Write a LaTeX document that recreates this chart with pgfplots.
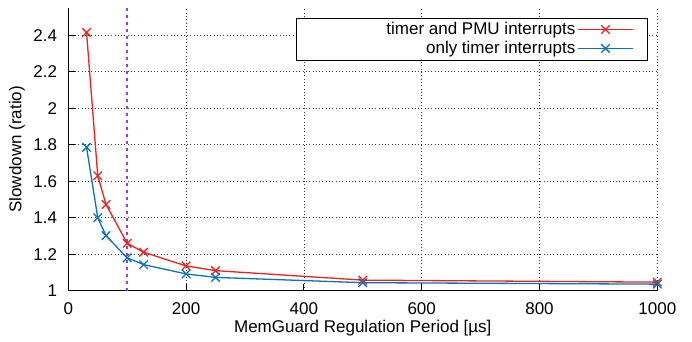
\documentclass[border=0pt]{standalone}
\usepackage{fontspec}
\setmainfont{Liberation Sans}
\usepackage{pgfplots}
\pgfplotsset{compat=1.18}
\definecolor{cred}{RGB}{232,35,28}
\definecolor{cblue}{RGB}{10,114,186}
\definecolor{cpurple}{RGB}{165,50,235}
\begin{document}
\fontsize{17}{20}\selectfont
\begin{tikzpicture}
\useasboundingbox (0,0) rectangle (692pt,341pt);
\begin{axis}[
  at={(68.3pt,50.3pt)}, anchor=south west,
  scale only axis, width=589pt, height=282.7pt,
  xmin=0, xmax=1000, ymin=1, ymax=2.55,
  axis x line*=bottom, axis y line*=left,
  axis line style={line width=1.4pt, -},
  xtick={0,200,...,1000},
  ytick={1,1.2,1.4,1.6,1.8,2,2.2,2.4},
  tick align=inside, major tick length=7pt,
  tick style={line width=0.9pt, black},
  grid=major,
  major grid style={black!80, line width=0.8pt, dash pattern=on 0.9pt off 2.4pt},
  /pgf/number format/assume math mode=true,
  /pgf/number format/1000 sep={},
  tick label style={font=\fontsize{17}{20}\selectfont},
  xticklabel style={anchor=base, yshift=-24pt},
  yticklabel style={anchor=east, inner sep=0pt, xshift=-11pt},
  label style={font=\fontsize{17}{20}\selectfont},
  xlabel={MemGuard Regulation Period [µs]},
  ylabel={Slowdown (ratio)},
  xlabel style={at={(axis description cs:0.5,-0.148)}, anchor=base},
  ylabel style={at={(axis description cs:-0.087,0.5)}, anchor=center},
  legend style={at={(0.984,0.965)}, anchor=north east,
    font=\fontsize{17}{20}\selectfont, inner xsep=4pt, inner ysep=2pt,
    legend cell align=right},
  legend plot pos=right,
  clip=false,
]
\addplot[draw=cpurple, line width=1.5pt, dash pattern=on 3pt off 4pt, forget plot]
  coordinates {(100,1) (100,2.55)};
\addplot[color=cred, line width=1.3pt, mark=x, mark size=6pt, mark options={line width=1.3pt},
  legend image code/.code={
    \draw[cred, line width=1.3pt] (6pt,0pt) -- (61pt,0pt);
    \draw[cred, line width=1.3pt] plot[mark=x, mark size=6pt, only marks] coordinates {(33.5pt,0pt)};
    \path (71pt,0pt);
  }]
  coordinates {(31,2.416) (50,1.63) (64,1.473) (100,1.26) (128,1.211) (200,1.136) (250,1.11) (500,1.058) (1000,1.047)};
\addlegendentry{\makebox[273pt][r]{timer and PMU interrupts}}
\addplot[color=cblue, line width=1.3pt, mark=x, mark size=6pt, mark options={line width=1.3pt},
  legend image code/.code={
    \draw[cblue, line width=1.3pt] (6pt,0pt) -- (61pt,0pt);
    \draw[cblue, line width=1.3pt] plot[mark=x, mark size=6pt, only marks] coordinates {(33.5pt,0pt)};
    \path (71pt,0pt);
  }]
  coordinates {(31,1.786) (50,1.40) (64,1.302) (100,1.18) (128,1.143) (200,1.092) (250,1.073) (500,1.044) (1000,1.036)};
\addlegendentry{\makebox[273pt][r]{only timer interrupts}}
\end{axis}
\end{tikzpicture}
\end{document}
